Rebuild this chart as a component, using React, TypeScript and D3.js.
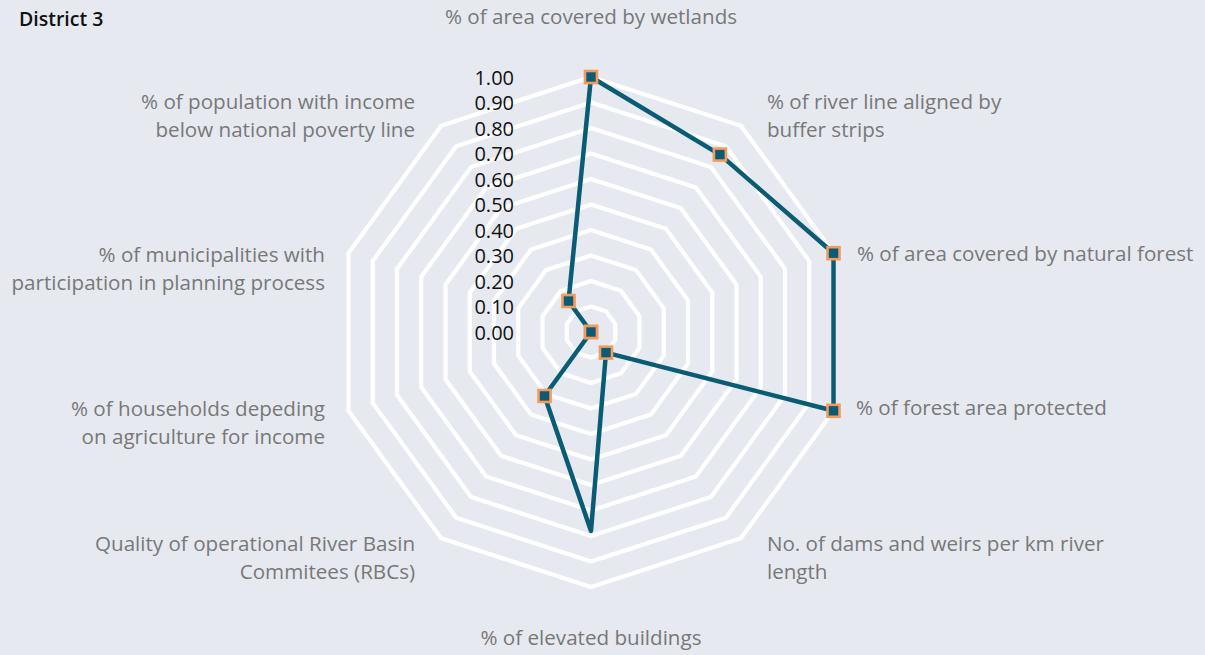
import React from "react";
import * as d3 from "d3";

const title = "District 3";
const categories = [
  "% of area covered by wetlands",
  "% of river line aligned by\nbuffer strips",
  "% of area covered by natural forest",
  "% of forest area protected",
  "No. of dams and weirs per km river\nlength",
  "% of elevated buildings",
  "Quality of operational River Basin\nCommitees (RBCs)",
  "% of households depeding\non agriculture for income",
  "% of municipalities with\nparticipation in planning process",
  "% of population with income\nbelow national poverty line",
];
const values = [1.0, 0.86, 1.0, 1.0, 0.1, 0.78, 0.31, 0, 0, 0.15];
const markerShown = [true, true, true, true, true, false, true, true, true, true];
const ticks = [0, 0.1, 0.2, 0.3, 0.4, 0.5, 0.6, 0.7, 0.8, 0.9, 1.0];

// label layout nudges (px) relative to polar anchor
const labelNudge: [number, number][] = [
  [0, -26], [5.5, 3.6], [-9.8, 10.6], [-10.8, -14.6], [5.5, -23.6],
  [0, 15], [-5.5, -23.6], [9.8, -13.6], [9.8, 11.6], [-5.5, 3.6],
];

const W = 1205, H = 655;
const cx = 591, cy = 332;
const R = 255;
const FONT = "'Open Sans', sans-serif";

export default function App() {
  const n = categories.length;
  const r = d3.scaleLinear().domain([0, 1]).range([0, R]);
  const ang = (i: number) => (i / n) * 2 * Math.PI;
  const pt = (i: number, v: number): [number, number] => [
    cx + Math.sin(ang(i)) * r(v),
    cy - Math.cos(ang(i)) * r(v),
  ];
  const gridLevels = ticks.filter((t) => t > 0);
  const lineGen = d3.line<number>().x((v, i) => pt(i, v)[0]).y((v, i) => pt(i, v)[1]).curve(d3.curveLinearClosed);
  const gridGen = (lvl: number) =>
    d3.line<number>().x((_, i) => pt(i, lvl)[0]).y((_, i) => pt(i, lvl)[1]).curve(d3.curveLinearClosed)(d3.range(n));
  const L = 290;
  const lineH = 28;
  return (
    <svg width={W} height={H} style={{ position: "absolute", left: 0, top: 0, display: "block" }}>
      <rect x={0} y={0} width={W} height={H} fill="#e6e9f0" />
      <text x={19} y={18} dominantBaseline="central" fontFamily={FONT} fontWeight={600} fontSize={19.5} fill="#111">
        {title}
      </text>
      {gridLevels.map((lvl) => (
        <path key={lvl} d={gridGen(lvl) || ""} fill="none" stroke="#ffffff" strokeWidth={4.2} />
      ))}
      {ticks.map((t) => (
        <text key={t} x={514} y={cy - r(t)} textAnchor="end" dominantBaseline="central" fontFamily={FONT} fontSize={20} fill="#111">
          {t.toFixed(2)}
        </text>
      ))}
      <path d={lineGen(values) || ""} fill="none" stroke="#0a5c74" strokeWidth={4.5} strokeLinejoin="round" />
      {values.map((v, i) =>
        markerShown[i] ? (
          <rect key={i} x={pt(i, v)[0] - 6} y={pt(i, v)[1] - 6} width={12} height={12} fill="#0a5c74" stroke="#f59a5c" strokeWidth={2.6} />
        ) : null
      )}
      {categories.map((c, i) => {
        const s = Math.sin(ang(i));
        const anchor = Math.abs(s) < 0.1 ? "middle" : s > 0 ? "start" : "end";
        const x = cx + s * L + labelNudge[i][0];
        const y = cy - Math.cos(ang(i)) * L + labelNudge[i][1];
        const lines = c.split("\n");
        return (
          <text key={i} x={x} y={y} textAnchor={anchor} dominantBaseline="central" fontFamily={FONT} fontSize={20.6} fill="#787878">
            {lines.map((ln, k) => (
              <tspan key={k} x={x} y={y + k * lineH}>
                {ln}
              </tspan>
            ))}
          </text>
        );
      })}
    </svg>
  );
}
